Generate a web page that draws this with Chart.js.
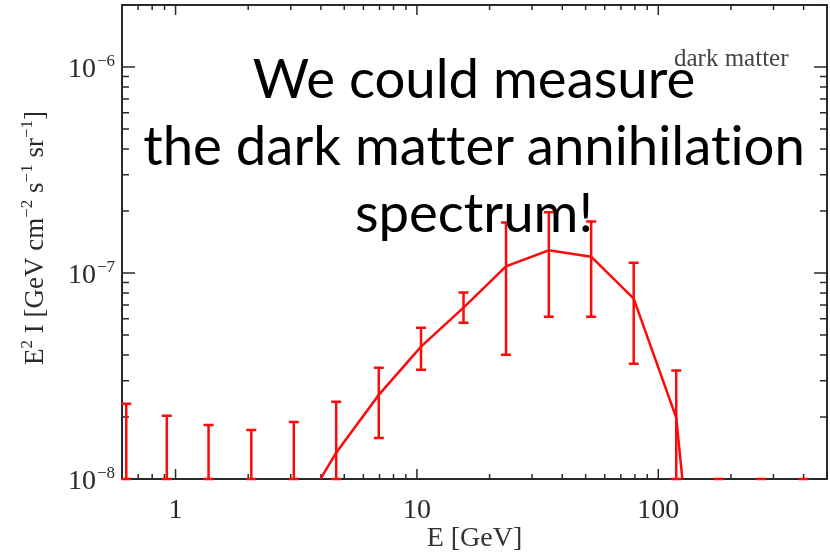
<!DOCTYPE html>
<html>
<head>
<meta charset="utf-8">
<script src="https://cdn.jsdelivr.net/npm/chart.js@4.4.1/dist/chart.umd.min.js"></script>
<style>
  html, body { margin: 0; padding: 0; background: #fff; }
  #wrap { position: relative; width: 830px; height: 552px; }
  #headline {
    position: absolute; left: 118px; top: 44px; width: 712px;
    text-align: center; font-family: Lato, sans-serif; font-size: 54.5px;
    line-height: 67px; color: #000;
    font-variant-ligatures: none; font-feature-settings: "liga" 0, "clig" 0;
  }
</style>
</head>
<body>
<div id="wrap">
  <canvas id="chart" width="830" height="552"></canvas>
  <div id="headline">We could measure<br>the dark matter annihilation<br>spectrum!</div>
</div>
<script>
// energy bins [GeV] and E^2 I values
const energies = [0.625, 0.92, 1.37, 2.06, 3.09, 4.63, 6.95, 10.4, 15.6, 23.4, 35.2, 52.7, 79.1, 118.7, 178, 267, 400];
const flux     = [4e-9, 3.5e-9, 3e-9, 3e-9, 6.1e-9, 1.34e-8, 2.56e-8, 4.39e-8, 6.79e-8, 1.076e-7, 1.29e-7, 1.2e-7, 7.51e-8, 1.98e-8, 1.7e-10, 1.5e-10, 1.5e-10];
const errHigh  = [2.32e-8, 2.03e-8, 1.83e-8, 1.73e-8, 1.89e-8, 2.37e-8, 3.47e-8, 5.43e-8, 8.04e-8, 1.76e-7, 1.97e-7, 1.78e-7, 1.12e-7, 3.36e-8, 5e-9, 5e-9, 5e-9];
const errLow   = [1e-9, 1e-9, 1e-9, 1e-9, 1e-9, 1e-9, 1.58e-8, 3.39e-8, 5.74e-8, 4.01e-8, 6.14e-8, 6.14e-8, 3.63e-8, 1e-9, 1e-10, 1e-10, 1e-10];

const xLabels = [1, 10, 100];
const yLabels = [1e-8, 1e-7, 1e-6];
const yExp = ['8', '7', '6'];
const seriesName = 'dark matter';

const red = '#ff0a0a';
const ink = '#2a2a2a';
const serif = '"Liberation Serif", "Times New Roman", serif';

function minorTicks(min, max){
    let out = [];
    for(let p = Math.floor(Math.log10(min)); p <= Math.ceil(Math.log10(max)); p++){
        for(let m = 1; m < 10; m++){
            let v = m * Math.pow(10, p);
            if(v >= min && v <= max) out.push({v: v, major: m === 1});
        }
    }
    return out;
}

const decor = {
    id: 'decor',
    beforeDatasetsDraw(chart){
        const {ctx, chartArea: a, scales: {x, y}} = chart;
        ctx.save();
        ctx.strokeStyle = ink;
        ctx.lineWidth = 2;
        ctx.strokeRect(a.left, a.top, a.right - a.left, a.bottom - a.top);
        ctx.lineWidth = 1.5;
        ctx.beginPath();
        minorTicks(x.min, x.max).forEach(t => {
            let px = x.getPixelForValue(t.v);
            let len = t.major ? 10 : 5;
            ctx.moveTo(px, a.bottom); ctx.lineTo(px, a.bottom - len);
            ctx.moveTo(px, a.top); ctx.lineTo(px, a.top + len);
        });
        minorTicks(y.min, y.max).forEach(t => {
            let py = y.getPixelForValue(t.v);
            let len = t.major ? 13 : 7;
            ctx.moveTo(a.left, py); ctx.lineTo(a.left + len, py);
            ctx.moveTo(a.right, py); ctx.lineTo(a.right - len, py);
        });
        ctx.stroke();

        // y tick labels with superscript exponent
        ctx.fillStyle = ink;
        ctx.textBaseline = 'alphabetic';
        yLabels.forEach((v, i) => {
            let py = y.getPixelForValue(v);
            ctx.font = '17px ' + serif;
            let sup = '\u2212' + yExp[i];
            let supW = ctx.measureText(sup).width;
            let right = a.left - 7;
            ctx.textAlign = 'right';
            ctx.fillText(sup, right, py - 1);
            ctx.font = '28px ' + serif;
            ctx.fillText('10', right - supW - 1, py + 10);
        });

        // y axis title, rotated, with superscripts
        const parts = [['E', 0], ['2', 1], [' I [GeV cm', 0], ['\u22122', 1], [' s', 0], ['\u22121', 1], [' sr', 0], ['\u22121', 1], [']', 0]];
        ctx.save();
        ctx.translate(43, (a.top + a.bottom) / 2 - 4);
        ctx.rotate(-Math.PI / 2);
        let total = 0;
        parts.forEach(p => {
            ctx.font = (p[1] ? '17px ' : '27px ') + serif;
            total += ctx.measureText(p[0]).width;
        });
        let cx = -total / 2;
        ctx.textAlign = 'left';
        parts.forEach(p => {
            ctx.font = (p[1] ? '17px ' : '27px ') + serif;
            ctx.fillText(p[0], cx, p[1] ? -11 : 0);
            cx += ctx.measureText(p[0]).width;
        });
        ctx.restore();

        // series label
        ctx.font = '25px ' + serif;
        ctx.fillStyle = '#444';
        ctx.textAlign = 'left';
        ctx.fillText(seriesName, 674, 66);
        ctx.restore();
    },
    afterDatasetsDraw(chart){
        const {ctx, chartArea: a, scales: {x, y}} = chart;
        ctx.save();
        ctx.beginPath();
        ctx.rect(a.left - 3, a.top, a.right - a.left + 6, a.bottom - a.top + 2);
        ctx.clip();
        ctx.strokeStyle = red;
        ctx.lineWidth = 2.5;
        const clamp = p => Math.max(a.top, Math.min(a.bottom, p));
        energies.forEach((e, i) => {
            let px = x.getPixelForValue(e);
            let top = clamp(y.getPixelForValue(errHigh[i]));
            let bot = clamp(y.getPixelForValue(errLow[i]));
            ctx.beginPath();
            ctx.moveTo(px, top); ctx.lineTo(px, bot);
            ctx.moveTo(px - 5, top); ctx.lineTo(px + 5, top);
            ctx.moveTo(px - 5, bot); ctx.lineTo(px + 5, bot);
            ctx.stroke();
        });
        ctx.restore();
    }
};

const ctx = document.getElementById('chart').getContext('2d');
const myChart = new Chart(ctx, {
    type: 'scatter',
    data: {
        datasets: [{
            label: seriesName,
            data: energies.map((e, i) => ({x: e, y: flux[i]})),
            showLine: true,
            borderColor: red,
            borderWidth: 2.5,
            pointRadius: 0,
            tension: 0
        }]
    },
    options: {
        responsive: false,
        animation: false,
        layout: { padding: { top: 5, right: 3, left: 0, bottom: 0 } },
        plugins: { legend: { display: false }, tooltip: { enabled: false } },
        scales: {
            x: {
                type: 'logarithmic',
                min: 0.6,
                max: 500,
                grid: { display: false },
                border: { display: false },
                afterBuildTicks: s => { s.ticks = xLabels.map(v => ({value: v})); },
                afterFit: s => { s.height = 73; },
                ticks: {
                    autoSkip: false,
                    maxRotation: 0,
                    padding: 7,
                    color: ink,
                    font: { family: serif, size: 28 },
                    callback: v => String(v)
                },
                title: {
                    display: true,
                    text: 'E [GeV]',
                    color: '#333',
                    font: { family: serif, size: 28 },
                    padding: { top: 0, bottom: -3 }
                }
            },
            y: {
                type: 'logarithmic',
                min: 1e-8,
                max: 2e-6,
                grid: { display: false },
                border: { display: false },
                afterFit: s => { s.width = 122; },
                ticks: { display: false }
            }
        }
    },
    plugins: [decor]
});
</script>
</body>
</html>
